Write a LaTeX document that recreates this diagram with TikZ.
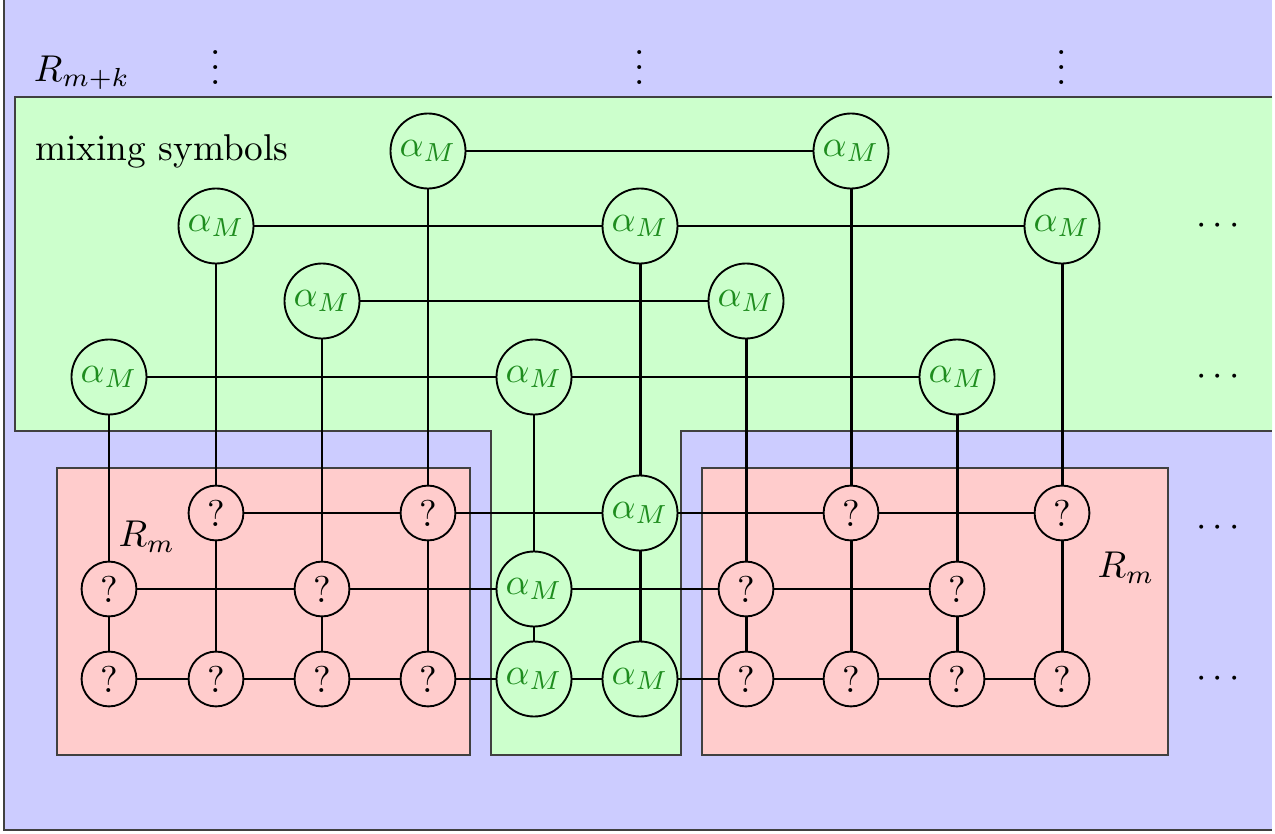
\documentclass[tikz,border=0pt]{standalone}
\definecolor{bgblue}{RGB}{204,204,255}
\definecolor{bggreen}{RGB}{204,255,204}
\definecolor{bgred}{RGB}{255,204,204}
\definecolor{alphagreen}{RGB}{30,140,30}
\tikzset{
  region/.style={draw=black!75, line width=0.4pt},
  mix/.style={circle, draw, line width=0.5pt, fill=bggreen, minimum size=20.1pt, inner sep=0pt, text=alphagreen},
  unk/.style={circle, draw, line width=0.5pt, fill=bgred, minimum size=14.7pt, inner sep=0pt},
  link/.style={line width=0.8pt},
  lbl/.style={inner sep=0pt}
}
\begin{document}
\begin{tikzpicture}[x=0.268pt,y=-0.268pt]
\useasboundingbox (0,0) rectangle (1275,834);
% regions
\fill[bgblue] (4,0) rectangle (1272,830);
\draw[region] (4,0) -- (4,830) -- (1272,830);
\fill[bggreen] (15,97) -- (1272,97) -- (1272,431) -- (681,431) -- (681,755) -- (491,755) -- (491,431) -- (15,431) -- cycle;
\draw[region] (1272,97) -- (15,97) -- (15,431) -- (491,431) -- (491,755) -- (681,755) -- (681,431) -- (1272,431);
\filldraw[region, fill=bgred] (57,468) rectangle (470,755);
\filldraw[region, fill=bgred] (702,468) rectangle (1168,755);
% labels
\node[lbl] (rmk) at (82,73) {$R_{m+k}$};
\node[lbl] (mixlabel) at (162,151) {mixing symbols};
\node[lbl] (rmleft) at (147,537) {$R_m$};
\node[lbl] (rmright) at (1126,568) {$R_m$};
\node[lbl] (vd1) at (216,56) {$\vdots$};
\node[lbl] (vd2) at (640,56) {$\vdots$};
\node[lbl] (vd3) at (1062,56) {$\vdots$};
\node[lbl] (hd1) at (1218,226) {$\cdots$};
\node[lbl] (hd2) at (1218,377) {$\cdots$};
\node[lbl] (hd3) at (1218,528) {$\cdots$};
\node[lbl] (hd4) at (1218,679) {$\cdots$};
% mixing symbol nodes
\node[mix] (n4t1) at (428,151) {$\alpha_M$};
\node[mix] (n8t1) at (851,151) {$\alpha_M$};
\node[mix] (n2t2) at (216,226) {$\alpha_M$};
\node[mix] (n6t2) at (640,226) {$\alpha_M$};
\node[mix] (n10t2) at (1062,226) {$\alpha_M$};
\node[mix] (n3t3) at (322,301) {$\alpha_M$};
\node[mix] (n7t3) at (746,301) {$\alpha_M$};
\node[mix] (n1t4) at (109,377) {$\alpha_M$};
\node[mix] (n5t4) at (534,377) {$\alpha_M$};
\node[mix] (n9t4) at (957,377) {$\alpha_M$};
\node[mix] (n6b1) at (640,513) {$\alpha_M$};
\node[mix] (n5b2) at (534,589) {$\alpha_M$};
\node[mix] (n5b3) at (534,679) {$\alpha_M$};
\node[mix] (n6b3) at (640,679) {$\alpha_M$};
% unknown nodes
\foreach \c/\x in {2/216,4/428,8/851,10/1062} \node[unk] (n\c b1) at (\x,513) {?};
\foreach \c/\x in {1/109,3/322,7/746,9/957} \node[unk] (n\c b2) at (\x,589) {?};
\foreach \c/\x in {1/109,2/216,3/322,4/428,7/746,8/851,9/957,10/1062} \node[unk] (n\c b3) at (\x,679) {?};
% horizontal links
\draw[link] (n4t1) -- (n8t1);
\draw[link] (n2t2) -- (n6t2) -- (n10t2);
\draw[link] (n3t3) -- (n7t3);
\draw[link] (n1t4) -- (n5t4) -- (n9t4);
\draw[link] (n2b1) -- (n4b1) -- (n6b1) -- (n8b1) -- (n10b1);
\draw[link] (n1b2) -- (n3b2) -- (n5b2) -- (n7b2) -- (n9b2);
\draw[link] (n1b3) -- (n2b3) -- (n3b3) -- (n4b3) -- (n5b3) -- (n6b3) -- (n7b3) -- (n8b3) -- (n9b3) -- (n10b3);
% vertical links
\foreach \c/\a/\b in {1/t4/b2, 2/t2/b1, 3/t3/b2, 4/t1/b1, 5/t4/b2, 6/t2/b1, 7/t3/b2, 8/t1/b1, 9/t4/b2, 10/t2/b1}
  \draw[link] (n\c\a) -- (n\c\b) -- (n\c b3);
\end{tikzpicture}
\end{document}
